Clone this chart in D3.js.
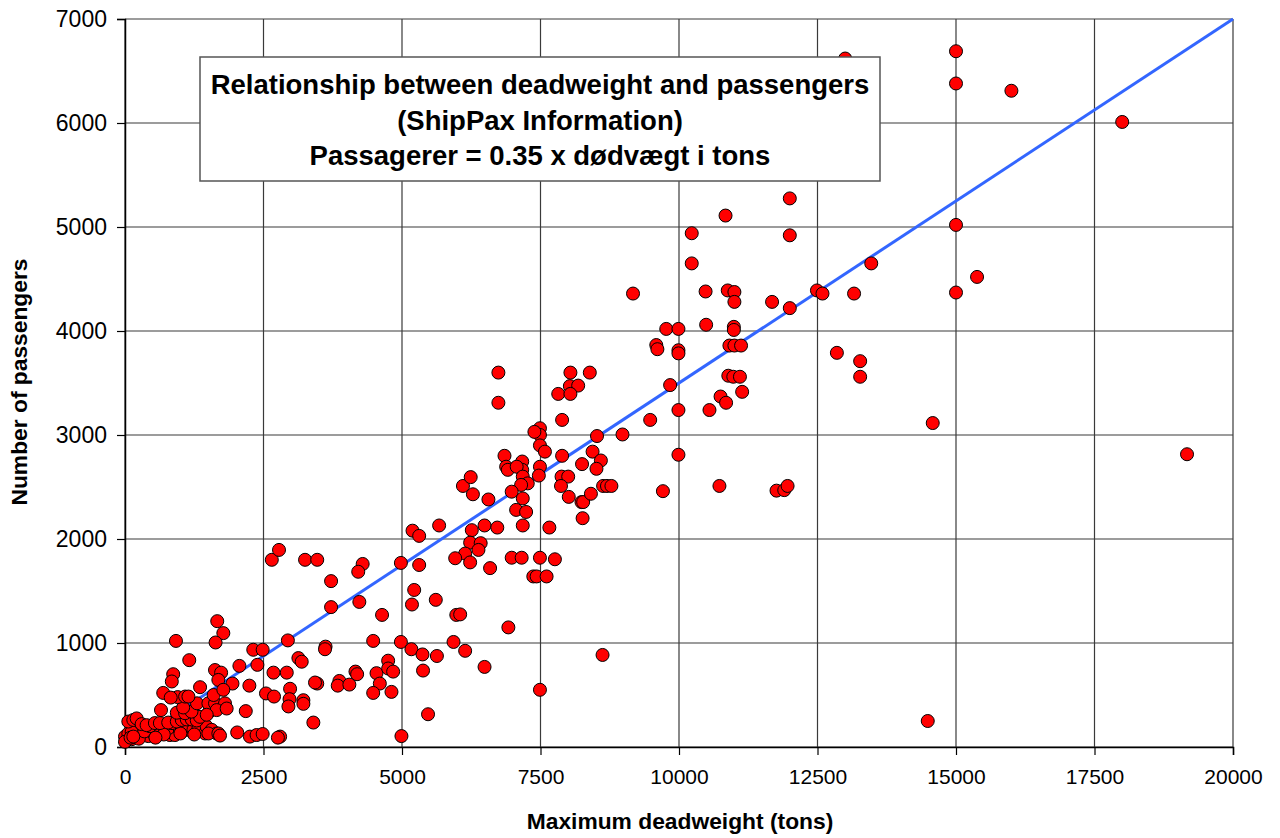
<!DOCTYPE html>
<html>
<head>
<meta charset="utf-8">
<script src="https://cdn.jsdelivr.net/npm/d3@7"></script>
<style>
  html, body { margin: 0; padding: 0; background: #fff; }
  svg { display: block; }
  text { font-family: Arial, "Liberation Sans", sans-serif; }
</style>
</head>
<body>
<svg id="chart" width="1280" height="838"></svg>
<script>
// Ferries: [maximum deadweight in tons, number of passengers]
const smallShips = [
  [0,100],[30,65],[120,75],[60,130],[210,115],[330,130],[420,105],[510,130],[600,115],[720,145],
  [810,115],[900,115],[780,180],[990,165],[1115,165],[1235,165],[1325,180],[1445,130],[1475,195],
  [1565,165],[1655,130],[270,180],[390,195],[510,180],[630,195],[200,165],[120,145],[0,50],
  [100,90],[250,80],[350,150],[450,200],[700,200],[850,230],[1000,130],[1250,120],[700,120],
  [550,90],[150,100],
  [60,245],[150,260],[210,275],[300,220],[390,210],[540,230],[630,230],[780,235],[935,245],
  [1025,260],[1115,265],[1205,265],[1295,255],
  [650,355],[935,330],[1085,325],[1355,290],[1520,340],[1200,340],[1050,380],[1300,420],[950,480],
  [1505,420],[1625,420],[1805,420],[1655,355],[1835,370],[1475,310],[1505,130],[1685,130],
  [1715,110],[2025,140],[2255,100],[2375,115],[2485,125],
  [870,700],[845,630],[690,520],[825,475],[1085,485],[1145,485],[1355,575],[1600,500],
  [1665,1210],[1775,1095],[1635,1005],[920,1020],[2315,935],[2485,935],[1160,835],[2065,780],
  [2390,790],[1625,740],[1735,715],[1685,645],[1940,610],[2245,590],[1775,550],[2180,345]
];

const mediumShips = [
  [3250,1800],[3470,1800],[2650,1800],[2780,1895],
  [2940,1025],[3620,965],[3610,940],[3130,855],[3190,820],[2920,715],[2980,560],[2970,460],
  [2950,390],[3220,450],[3220,415],[3470,610],[3430,620],[3400,235],[2800,100],[2680,715],
  [2545,515],[2690,485],[2760,90],
  [5190,2080],[5310,2030],[5670,2130],[4980,1770],[5310,1750],[4290,1760],[4210,1685],
  [3720,1595],[3720,1345],[4230,1395],[4640,1270],[5180,1370],[5220,1510],[5610,1415],[5980,1270],
  [4480,1020],[4980,1010],[5930,1010],[5170,940],[5370,890],[5630,875],[6140,925],
  [5380,735],[4160,725],[4190,700],[3870,635],[3840,590],[4050,600],[4540,710],[4750,830],
  [4750,755],[4840,725],[4600,610],[4480,520],[4810,530],[5470,315],[4990,105]
];

const largeShips = [
  [6740,3600],[6740,3310],[8040,3600],[8390,3600],[8030,3470],[8180,3475],[7820,3395],[8040,3395],
  [7890,3145],[7490,3065],[7490,3000],[7390,3030],[7490,2900],[7580,2840],[8520,2990],[8980,3005],
  [7890,2800],[8440,2840],[8590,2755],[8510,2675],[8250,2720],
  [6850,2800],[6880,2695],[6910,2665],[7170,2745],[7170,2665],[7070,2695],[7180,2600],[7270,2535],
  [7150,2520],[7490,2695],[7470,2610],[6980,2455],[7180,2390],
  [7880,2600],[8000,2600],[7870,2510],[8010,2405],[8240,2355],[8270,2355],[8410,2435],[8260,2200],
  [8630,2510],[8700,2510],[8780,2510],
  [7060,2280],[7240,2260],[7180,2130],[7660,2110],
  [6560,2380],[6280,2430],[6100,2510],[6240,2595],[6490,2130],[6720,2110],[6260,2085],
  [6230,1965],[6420,1960],[6380,1895],[6140,1860],[5960,1815],
  [6980,1820],[7160,1820],[7490,1820],[7760,1805],
  [6230,1775],[6590,1720],[7370,1640],[7430,1640],[7610,1640],
  [6050,1275],[6920,1150],[6490,770],[8620,885],[7490,550]
];

const cruiseFerries = [
  [13000,6620],[15000,6690],[15000,6380],[16000,6310],[18000,6010],
  [12000,5275],[10840,5110],[10230,4940],[12000,4920],[15000,5020],
  [10230,4650],[13470,4650],[9170,4360],[10480,4380],[10880,4390],[11000,4375],[11000,4280],
  [11680,4280],[12000,4220],[12490,4390],[12590,4360],[13160,4360],[15000,4370],[15380,4520],
  [9770,4020],[9990,4020],[10490,4060],[10990,4040],[10990,4010],
  [9590,3865],[9610,3825],[9990,3815],[9990,3785],[10910,3860],[11000,3860],[11120,3860],
  [12850,3790],[13270,3710],[13270,3560],
  [9840,3480],[10890,3570],[10980,3560],[11100,3560],[11140,3415],[10750,3370],[10850,3310],
  [9480,3145],[9990,3240],[10550,3240],[9990,2810],[9710,2460],[10730,2510],[11760,2465],
  [11900,2470],[11960,2510],
  [14580,3115],[19170,2815],[14490,250]
];

// Fitted relation: passengers = 0.35 x deadweight
const trendSlope = 0.35;
const trendRange = [0, 20000];

const xTicks = [0, 2500, 5000, 7500, 10000, 12500, 15000, 17500, 20000];
const yTicks = [0, 1000, 2000, 3000, 4000, 5000, 6000, 7000];

const titleLines = [
  "Relationship between deadweight and passengers",
  "(ShipPax Information)",
  "Passagerer = 0.35 x dødvægt i tons"
];

const svg = d3.select("#chart");
const plot = { left: 125, right: 1233, top: 19, bottom: 747 };

const x = d3.scaleLinear().domain([0, 20000]).range([plot.left, plot.right]);
const y = d3.scaleLinear().domain([0, 7000]).range([plot.bottom, plot.top]);

// Grid
const grid = svg.append("g").attr("stroke", "#3a3a3a").attr("stroke-width", 1.2);
grid.selectAll("line.v").data(xTicks).join("line")
  .attr("x1", d => x(d)).attr("x2", d => x(d))
  .attr("y1", plot.top).attr("y2", plot.bottom);
grid.selectAll("line.h").data(yTicks).join("line")
  .attr("x1", plot.left).attr("x2", plot.right)
  .attr("y1", d => y(d)).attr("y2", d => y(d));

// Axes
const xAxis = d3.axisBottom(x).tickValues(xTicks).tickSize(8).tickPadding(10).tickFormat(d3.format("d"));
const yAxis = d3.axisLeft(y).tickValues(yTicks).tickSize(8).tickPadding(10).tickFormat(d3.format("d"));

const gx = svg.append("g").attr("transform", `translate(0,${plot.bottom})`).call(xAxis);
const gy = svg.append("g").attr("transform", `translate(${plot.left},0)`).call(yAxis);
[gx, gy].forEach(g => {
  g.select(".domain").attr("stroke", "#000").attr("stroke-width", 1.5);
  g.selectAll(".tick line").attr("stroke", "#000").attr("stroke-width", 1.2);
  g.selectAll(".tick text").attr("fill", "#000")
    .attr("font-family", "Arial, 'Liberation Sans', sans-serif");
});
gx.selectAll(".tick text").attr("font-size", 21).attr("dy", "0.9em");
gy.selectAll(".tick text").attr("font-size", 23);

// Trend line
svg.append("line")
  .attr("x1", x(trendRange[0])).attr("y1", y(trendRange[0] * trendSlope))
  .attr("x2", x(trendRange[1])).attr("y2", y(trendRange[1] * trendSlope))
  .attr("stroke", "#3366ff").attr("stroke-width", 3);

// Points
const allShips = [...smallShips, ...mediumShips, ...largeShips, ...cruiseFerries];
svg.append("g").selectAll("circle").data(allShips).join("circle")
  .attr("cx", d => x(d[0])).attr("cy", d => y(d[1]))
  .attr("r", 6.5)
  .attr("fill", "#ff0000").attr("stroke", "#000").attr("stroke-width", 1);

// Title box
const box = { x: 200, y: 57, w: 680, h: 124 };
svg.append("rect").attr("x", box.x).attr("y", box.y).attr("width", box.w).attr("height", box.h)
  .attr("fill", "#fff").attr("stroke", "#555").attr("stroke-width", 1.5);
svg.append("g").selectAll("text").data(titleLines).join("text")
  .attr("x", box.x + box.w / 2)
  .attr("y", (d, i) => 94 + i * 35.5)
  .attr("text-anchor", "middle")
  .attr("font-weight", "bold").attr("font-size", 27.5)
  .attr("fill", "#000")
  .text(d => d);

// Axis titles
svg.append("text").attr("x", 680).attr("y", 829)
  .attr("text-anchor", "middle").attr("font-weight", "bold").attr("font-size", 22.8)
  .text("Maximum deadweight (tons)");
svg.append("text").attr("transform", `translate(27,382) rotate(-90)`)
  .attr("text-anchor", "middle").attr("font-weight", "bold").attr("font-size", 22.8)
  .text("Number of passengers");
</script>
</body>
</html>
